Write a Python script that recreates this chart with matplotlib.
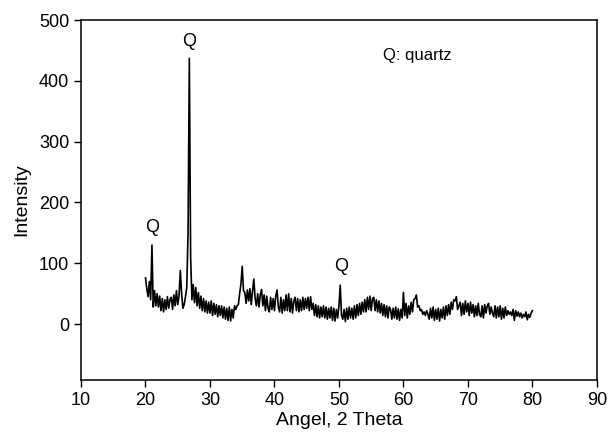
import numpy as np
import matplotlib
matplotlib.use('Agg')
import matplotlib.pyplot as plt

plt.rcParams['font.family'] = ['Liberation Sans', 'DejaVu Sans']

# 2-theta grid, 0.2 degree steps from 20 to 80
angle = np.round(np.arange(20.0, 80.01, 0.2), 1)

# intensity, one row per 2 degrees
intensity = [
    76, 58, 45, 70, 40, 130, 28, 55, 30, 50,      # 20
    28, 46, 22, 42, 20, 40, 24, 45, 26, 40,       # 22
    44, 24, 48, 30, 55, 32, 46, 88, 50, 26,       # 24
    32, 45, 60, 150, 437, 110, 40, 65, 35, 60,    # 26
    30, 52, 26, 46, 22, 42, 20, 38, 18, 36,       # 28
    18, 38, 14, 34, 16, 32, 12, 30, 14, 30,       # 30
    10, 28, 8, 26, 6, 28, 5, 24, 10, 30,          # 32
    24, 30, 32, 50, 66, 95, 55, 52, 34, 56,       # 34
    38, 58, 32, 54, 74, 42, 30, 50, 28, 48,       # 36
    57, 30, 48, 22, 46, 26, 20, 44, 24, 42,       # 38
    22, 46, 56, 28, 20, 44, 18, 40, 22, 48,       # 40
    22, 50, 20, 42, 18, 38, 44, 22, 42, 20,       # 42
    40, 22, 44, 24, 42, 26, 44, 22, 45, 24,       # 44
    34, 14, 32, 12, 30, 10, 28, 12, 30, 10,       # 46
    28, 8, 26, 10, 28, 6, 26, 5, 24, 10,          # 48
    30, 64, 14, 8, 24, 4, 26, 8, 28, 10,          # 50
    26, 8, 30, 10, 32, 14, 34, 16, 36, 20,        # 52
    40, 20, 44, 24, 46, 22, 42, 44, 22, 40,       # 54
    20, 38, 18, 34, 14, 32, 12, 30, 10, 28,       # 56
    24, 8, 26, 10, 28, 8, 25, 6, 24, 10,          # 58
    52, 14, 34, 10, 30, 16, 36, 20, 40, 42,       # 60
    48, 28, 30, 22, 24, 16, 20, 14, 22, 16,       # 62
    8, 26, 10, 28, 6, 24, 8, 26, 5, 24,           # 64
    10, 28, 8, 30, 14, 32, 16, 36, 24, 40,        # 66
    38, 45, 24, 30, 36, 14, 34, 16, 38, 20,       # 68
    34, 14, 36, 18, 32, 12, 30, 14, 34, 16,       # 70
    12, 30, 10, 32, 18, 30, 34, 16, 28, 18,       # 72
    12, 30, 10, 28, 12, 30, 8, 26, 10, 28,        # 74
    14, 22, 16, 20, 14, 24, 6, 22, 13, 20,        # 76
    12, 18, 10, 16, 12, 20, 7, 16, 11, 18,        # 78
    22,                                           # 80
]

q_labels = ['Q', 'Q', 'Q']
q_x = [21.0, 26.8, 50.4]
q_y = [158, 464, 94]

fig = plt.figure(figsize=(6.16, 4.33), dpi=100)
ax = fig.add_axes([0.1315, 0.1224, 0.8375, 0.8314])
ax.plot(angle, intensity, color='black', linewidth=1.2)

for lab, x, y in zip(q_labels, q_x, q_y):
    ax.text(x, y, lab, ha='center', va='center', fontsize=13)
ax.text(56.8, 442, 'Q: quartz', ha='left', va='center', fontsize=12)

ax.set_xlim(10, 90)
ax.set_ylim(-92, 500)
ax.set_xticks(range(10, 91, 10))
ax.set_yticks(range(0, 501, 100))
ax.tick_params(direction='out', length=5, width=1, labelsize=13, top=False, right=False)
for s in ax.spines.values():
    s.set_linewidth(1.1)
ax.set_xlabel('Angel, 2 Theta', fontsize=14, labelpad=2)
ax.set_ylabel('Intensity', fontsize=14, labelpad=6)

fig.savefig('out.png', dpi=100)
